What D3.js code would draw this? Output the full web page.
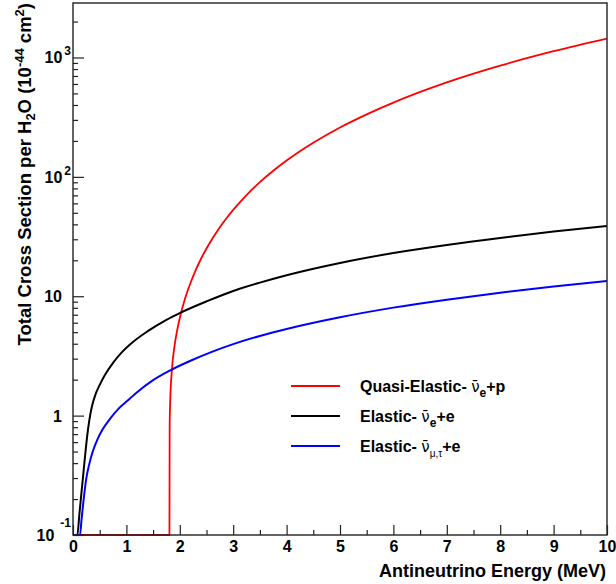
<!DOCTYPE html>
<html>
<head>
<meta charset="utf-8">
<script src="https://cdn.jsdelivr.net/npm/d3@7"></script>
<style>
  body { margin: 0; background: #fff; }
  svg { display: block; font-family: "Liberation Sans", Arial, Helvetica, sans-serif; font-weight: bold; }
</style>
</head>
<body>
<div id="chart"></div>
<script>
// cross sections per H2O in units of 1e-44 cm^2
var ibdEnergy = [0, 1.806, 1.81, 1.82, 1.85, 1.9, 1.95, 2.0, 2.1, 2.2, 2.3, 2.4, 2.5, 2.6, 2.7, 2.8, 2.9, 3.0, 3.25, 3.5, 3.75, 4.0, 4.5, 5.0, 5.5, 6.0, 7.0, 8.0, 9.0, 10.0];
var ibdXsec = [0, 0, 0.78, 1.3, 2.35, 3.8, 5.17, 6.58, 9.6, 12.9, 16.6, 20.7, 25.1, 29.9, 35.1, 40.7, 46.6, 52.9, 70.4, 90.2, 112.4, 137, 193, 259, 334, 419, 618, 854, 1128, 1441];

var nueEnergy = [0, 0.081, 0.12, 0.16, 0.2, 0.24, 0.28, 0.32, 0.36, 0.42, 0.5, 0.6, 0.75, 0.9, 1.1, 1.4, 1.75, 2.0, 2.5, 3, 3.5, 4, 5, 6, 7, 8, 9, 10];
var nueXsec = [0, 0.1, 0.15, 0.23, 0.35, 0.53, 0.76, 1.0, 1.22, 1.5, 1.81, 2.2, 2.77, 3.34, 4.06, 5.1, 6.35, 7.23, 9.05, 11.07, 13.0, 15.0, 19.0, 23.0, 26.9, 30.8, 34.8, 38.7];

var numuEnergy = [0, 0.131, 0.16, 0.2, 0.25, 0.3, 0.37, 0.45, 0.55, 0.7, 0.85, 1.0, 1.2, 1.5, 1.85, 2.2, 2.6, 3, 3.5, 4, 5, 6, 7, 8, 9, 10];
var numuXsec = [0, 0.1, 0.135, 0.2, 0.3, 0.385, 0.5, 0.62, 0.76, 0.95, 1.14, 1.31, 1.57, 1.98, 2.43, 2.88, 3.42, 3.97, 4.65, 5.32, 6.67, 8.03, 9.36, 10.7, 12.05, 13.4];

var xTicks = [0, 1, 2, 3, 4, 5, 6, 7, 8, 9, 10];
var yTicks = [0.1, 1, 10, 100, 1000];
var yTickBase = ['10', '1', '10', '10', '10'];
var yTickExp = ['-1', '', '', '2', '3'];

var legendColors = ['#ff0000', '#000000', '#0000ff'];
var legendText = ['Quasi-Elastic- ', 'Elastic- ', 'Elastic- '];
var legendSub = ['e', 'e', 'μ,τ'];
var legendTail = ['+p', '+e', '+e'];

var width = 616, height = 584;
var padL = 73, padR = 607, padT = 3, padB = 535;
var yMin = 0.1, yMax = 2860;

var svg = d3.select('#chart').append('svg')
  .attr('width', width)
  .attr('height', height);

svg.append('rect').attr('width', width).attr('height', height).attr('fill', '#fff');

var x = d3.scaleLinear().domain([0, 10]).range([padL, padR]);
var y = d3.scaleLog().domain([yMin, yMax]).range([padB, padT]);

svg.append('clipPath').attr('id', 'frame')
  .append('rect')
  .attr('x', padL).attr('y', padT - 1)
  .attr('width', padR - padL).attr('height', padB - padT + 2);

// values below the axis minimum are drawn on the bottom edge, as ROOT does
var line = d3.line()
  .x(function (d) { return x(d[0]); })
  .y(function (d) { return y(Math.max(d[1], yMin)); })
  .curve(d3.curveMonotoneX);

var series = [
  { e: ibdEnergy, v: ibdXsec, color: legendColors[0], w: 1.8 },
  { e: nueEnergy, v: nueXsec, color: legendColors[1], w: 2 },
  { e: numuEnergy, v: numuXsec, color: legendColors[2], w: 2 }
];

var curves = svg.append('g').attr('clip-path', 'url(#frame)');
series.forEach(function (s) {
  curves.append('path')
    .datum(d3.zip(s.e, s.v))
    .attr('d', line)
    .attr('fill', 'none')
    .attr('stroke', s.color)
    .attr('stroke-width', s.w);
});

// frame
svg.append('rect')
  .attr('x', padL).attr('y', padT)
  .attr('width', padR - padL).attr('height', padB - padT)
  .attr('fill', 'none')
  .attr('stroke', '#222')
  .attr('stroke-width', 1.4);

function tickStyle(g) {
  g.select('.domain').remove();
  g.selectAll('line').attr('stroke', '#222').attr('stroke-width', 1.2);
}

// x axis ticks (inside)
var xMinor = d3.range(0.5, 10, 1);
svg.append('g')
  .attr('transform', 'translate(0,' + padB + ')')
  .call(d3.axisBottom(x).tickValues(xTicks).tickSizeInner(-10).tickSizeOuter(0).tickPadding(6))
  .call(tickStyle)
  .call(function (g) {
    g.selectAll('text').attr('font-size', 16).attr('font-family', null).attr('fill', '#000');
  });
svg.append('g')
  .attr('transform', 'translate(0,' + padB + ')')
  .call(d3.axisBottom(x).tickValues(xMinor).tickSizeInner(-5).tickSizeOuter(0).tickFormat(''))
  .call(tickStyle);

// y axis ticks (inside)
var yMinor = [];
yTicks.forEach(function (d) {
  for (var k = 2; k <= 9; k++) if (d * k <= yMax) yMinor.push(d * k);
});
svg.append('g')
  .attr('transform', 'translate(' + padL + ',0)')
  .call(d3.axisLeft(y).tickValues(yTicks).tickSizeInner(-11).tickSizeOuter(0).tickFormat(''))
  .call(tickStyle);
svg.append('g')
  .attr('transform', 'translate(' + padL + ',0)')
  .call(d3.axisLeft(y).tickValues(yMinor).tickSizeInner(-5).tickSizeOuter(0).tickFormat(''))
  .call(tickStyle);

// y tick labels, ROOT style 10^n
yTicks.forEach(function (d, i) {
  var t = svg.append('text')
    .attr('x', yTickExp[i] ? 71 : 62)
    .attr('y', y(d) + 6)
    .attr('text-anchor', 'end')
    .attr('font-size', 16);
  t.append('tspan').text(yTickBase[i]);
  if (yTickExp[i]) {
    t.append('tspan')
      .attr('dx', yTickExp[i] === '-1' ? 6 : 2)
      .attr('dy', yTickExp[i] === '-1' ? -14 : -8)
      .attr('font-size', 12)
      .text(yTickExp[i]);
  }
});

// axis titles
svg.append('text')
  .attr('x', padR - 1)
  .attr('y', 577)
  .attr('text-anchor', 'end')
  .attr('font-size', 18)
  .text('Antineutrino Energy (MeV)');

var yt = svg.append('text')
  .attr('transform', 'translate(31,' + (padT) + ') rotate(-90)')
  .attr('text-anchor', 'end')
  .attr('font-size', 18.5);
yt.append('tspan').text('Total Cross Section per H');
yt.append('tspan').attr('dy', 4).attr('font-size', 13).text('2');
yt.append('tspan').attr('dy', -4).text('O (10');
yt.append('tspan').attr('dy', -7).attr('font-size', 13).text('-44');
yt.append('tspan').attr('dy', 7).text(' cm');
yt.append('tspan').attr('dy', -7).attr('font-size', 13).text('2');
yt.append('tspan').attr('dy', 7).text(')');

// legend
var legend = svg.append('g');
legendText.forEach(function (txt, i) {
  var ly = 386 + i * 30;
  legend.append('line')
    .attr('x1', 291).attr('x2', 340)
    .attr('y1', ly).attr('y2', ly)
    .attr('stroke', legendColors[i])
    .attr('stroke-width', 2);
  var t = legend.append('text')
    .attr('x', 360)
    .attr('y', ly + 6)
    .attr('font-size', 16);
  t.append('tspan').text(txt);
  t.append('tspan')
    .attr('font-family', '"DejaVu Sans", sans-serif')
    .attr('font-weight', 'normal')
    .attr('font-size', 15)
    .text('ν\u0304');
  t.append('tspan')
    .attr('dy', 5)
    .attr('font-size', i === 2 ? 10 : 12)
    .attr('font-weight', i === 2 ? 'normal' : 'bold')
    .text(legendSub[i]);
  t.append('tspan')
    .attr('dy', -5)
    .text(legendTail[i]);
});
</script>
</body>
</html>
